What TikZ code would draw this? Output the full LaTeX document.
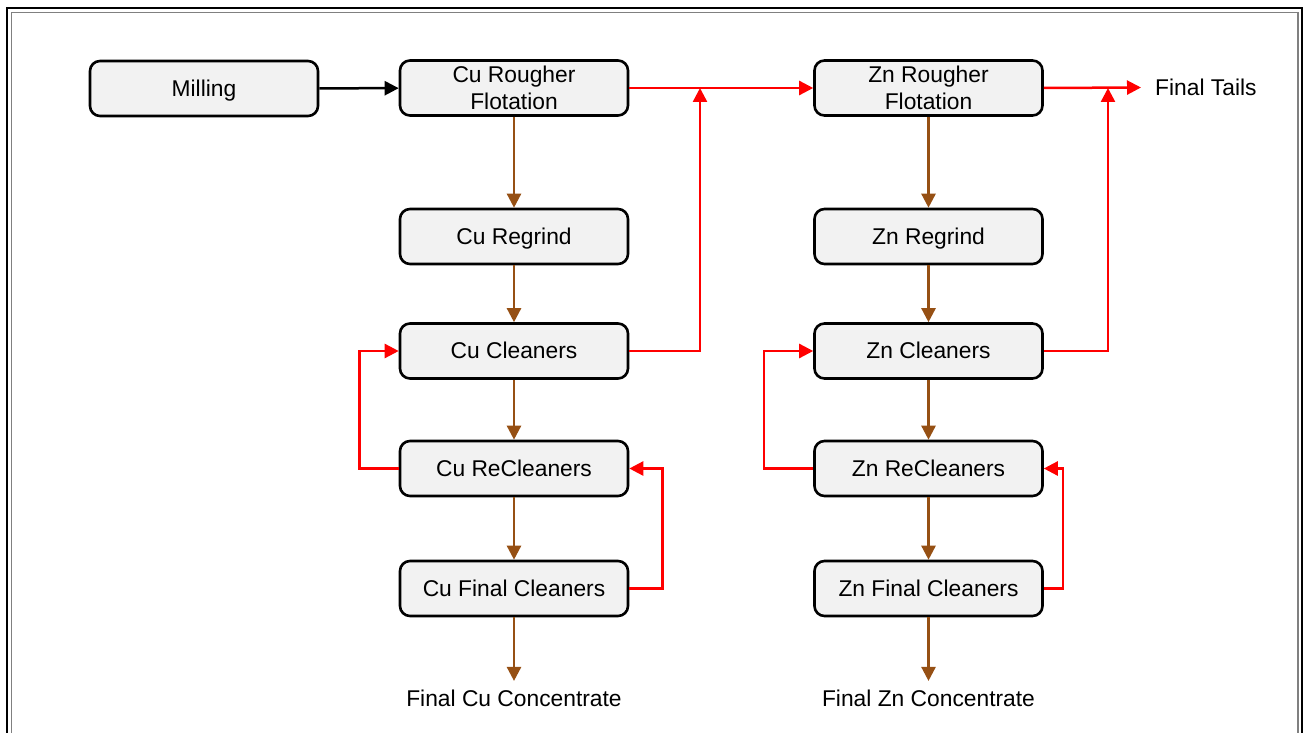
\documentclass[tikz,border=0pt]{standalone}
\usepackage{fontspec}
\setmainfont{Liberation Sans}
\usetikzlibrary{arrows.meta}
\definecolor{boxfill}{RGB}{242,242,242}
\definecolor{brn}{RGB}{150,80,20}
\definecolor{rd}{RGB}{255,0,0}
\newcommand{\diagfont}{\fontsize{22.8}{27.5}\selectfont}
\begin{document}
\begin{tikzpicture}[x=1pt,y=-1pt,
  box/.style={draw=black, line width=2.6pt, rounded corners=10pt, fill=boxfill,
    minimum width=228pt, minimum height=55pt, inner sep=0pt, align=center, font=\diagfont},
  onebox/.style={box, text height=20.6pt, text depth=4.8pt},
  lbl/.style={font=\diagfont, inner sep=0pt},
  tip/.style={-{Triangle[length=14pt,width=14pt]}},
  blkarr/.style={tip, draw=black, line width=2.5pt},
  redarr/.style={tip, draw=rd, line width=2.5pt},
  brnarr/.style={tip, draw=brn, line width=2.5pt}]
\useasboundingbox (0,0) rectangle (1306,733);
\draw[black, line width=2pt] (7,8) rectangle (1302,745);
\draw[gray, line width=1.2pt] (11.5,12.5) rectangle (1298,745);

% nodes
\node[onebox] (mill) at (204,88.5) {Milling};
\node[box] (cur) at (514,88) {Cu Rougher\\Flotation};
\node[box] (znr) at (928.5,88) {Zn Rougher\\Flotation};
\node[onebox] (cureg) at (514,236.5) {Cu Regrind};
\node[onebox] (cucl) at (514,351) {Cu Cleaners};
\node[onebox] (curecl) at (514,468.5) {Cu ReCleaners};
\node[onebox] (cufin) at (514,588.5) {Cu Final Cleaners};
\node[onebox] (znreg) at (928.5,236.5) {Zn Regrind};
\node[onebox] (zncl) at (928.5,351) {Zn Cleaners};
\node[onebox] (znrecl) at (928.5,468.5) {Zn ReCleaners};
\node[onebox] (znfin) at (928.5,588.5) {Zn Final Cleaners};
\node[lbl, anchor=west, inner xsep=14pt] (ft) at (1141,87.5) {Final Tails};
\node[lbl, inner ysep=9pt] (cuconc) at (514,698.5) {Final Cu Concentrate};
\node[lbl, inner ysep=9pt] (znconc) at (928.5,698.5) {Final Zn Concentrate};
\coordinate (j1) at (700,88);
\coordinate (j2) at (1108,88);

% black
\draw[blkarr] (mill) -- (cur);

% red
\draw[redarr] (cur) -- (znr);
\draw[redarr] (znr.east) -- (ft.west);
\draw[redarr] (cucl.east) -| (j1);
\draw[redarr] (zncl.east) -| (j2);
\draw[redarr] (curecl.west) -- ++(-39,0) |- (cucl.west);
\draw[redarr] (cufin.east) -- ++(33,0) |- (curecl.east);
\draw[redarr] (znrecl.west) -- ++(-49,0) |- (zncl.west);
\draw[redarr] (znfin.east) -- ++(19,0) |- (znrecl.east);

% brown
\draw[brnarr] (cur.south) -- (cureg.north);
\draw[brnarr] (cureg.south) -- (cucl.north);
\draw[brnarr] (cucl.south) -- (curecl.north);
\draw[brnarr] (curecl.south) -- (cufin.north);
\draw[brnarr] (cufin.south) -- (cuconc.north);
\draw[brnarr] (znr.south) -- (znreg.north);
\draw[brnarr] (znreg.south) -- (zncl.north);
\draw[brnarr] (zncl.south) -- (znrecl.north);
\draw[brnarr] (znrecl.south) -- (znfin.north);
\draw[brnarr] (znfin.south) -- (znconc.north);
\end{tikzpicture}
\end{document}
